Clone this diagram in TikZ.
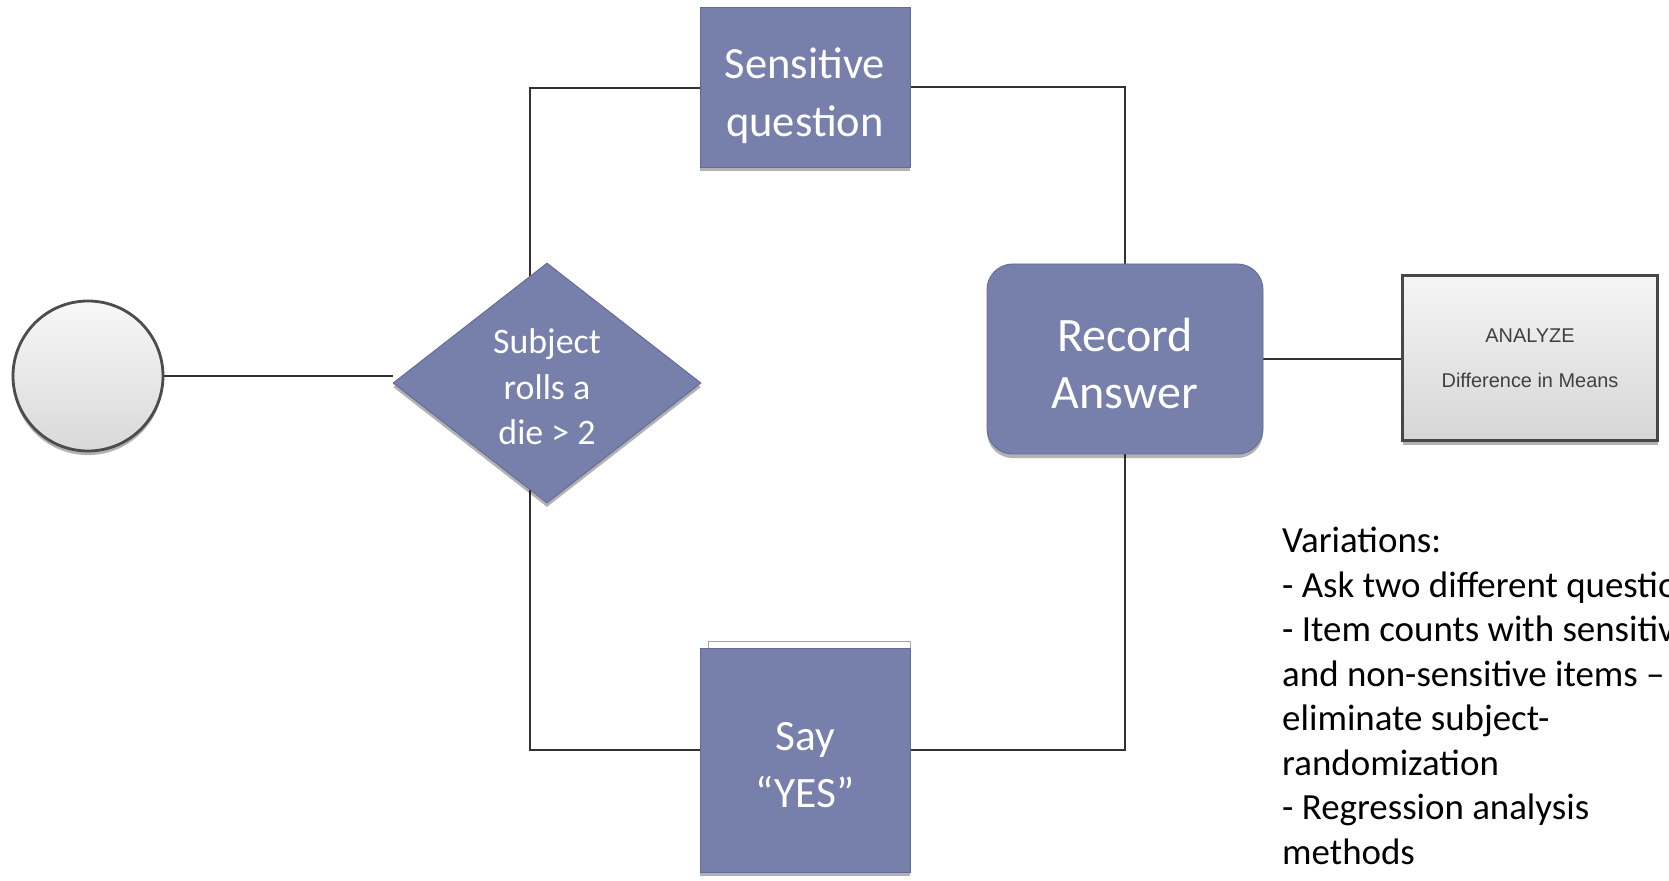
\documentclass[tikz,border=0pt]{standalone}
\usepackage{fontspec}
\setmainfont{Carlito}
\newfontfamily\labelfont{Liberation Sans}
\usetikzlibrary{shapes.geometric,shadows,calc}
\pgfdeclarelayer{background}
\pgfsetlayers{background,main}
\newdimen\pxu \pxu=0.03cm
\definecolor{boxblue}{RGB}{119,127,171}
\definecolor{boxedge}{RGB}{98,108,152}
\definecolor{linegray}{RGB}{50,50,50}

\begin{document}
\begin{tikzpicture}[x=0.03cm,y=-0.03cm,
  conn/.style={draw=linegray,line width=1.7pt},
  softshadow/.style={drop shadow={shadow xshift=0pt,shadow yshift=-3.5pt,opacity=0.3,fill=black}},
  stepbox/.style={rectangle,fill=boxblue,draw=boxedge,line width=0.8pt,text=white,
    align=center,inner sep=0pt,softshadow},
  recbox/.style={stepbox,rounded corners=22pt},
  decbox/.style={diamond,shape aspect=1.28,fill=boxblue,draw=boxedge,line width=0.8pt,
    text=white,align=center,inner sep=0pt,softshadow},
  startnode/.style={circle,draw=black!70,line width=2.4pt,top color=black!3,bottom color=black!15,
    inner sep=0pt,softshadow},
  anabox/.style={rectangle,draw=black!72,line width=2.4pt,top color=black!4,bottom color=black!16,
    text=black!75,align=center,inner sep=0pt,softshadow},
  notes/.style={align=left,inner sep=0pt,text=black}]

\useasboundingbox (0,0) rectangle (1669,881);
\clip (0,0) rectangle (1669,881);

% nodes
\node[startnode,minimum size=150*\pxu] (start) at (88,376) {};
\node[decbox,minimum width=308*\pxu,minimum height=240*\pxu,text height=105.4pt,text depth=0pt,
  font=\fontsize{30.6}{39}\selectfont] (dec) at (547,383) {Subject\\rolls a\\die > 2};
\node[stepbox,minimum width=210*\pxu,minimum height=160*\pxu,text height=84pt,text depth=0pt,
  font=\fontsize{38}{49}\selectfont] (sens) at (805,87) {Sensitive\\question};
\draw[draw=black!35,line width=0.6pt] (708,641) rectangle (910,870);
\node[stepbox,minimum width=210*\pxu,minimum height=224*\pxu,text height=81.5pt,text depth=0pt,
  font=\fontsize{37}{48.5}\selectfont] (say) at (805,760) {Say\\“YES”};
\node[recbox,minimum width=276*\pxu,minimum height=190*\pxu,text height=85pt,text depth=0pt,
  font=\fontsize{41}{49}\selectfont] (rec) at (1125,359) {Record\\Answer};
\node[anabox,minimum width=255*\pxu,minimum height=165*\pxu,
  font=\labelfont\fontsize{17}{38}\selectfont] (ana) at (1530,358) {ANALYZE\\Difference in Means};
\node[notes,anchor=north west,font=\fontsize{31.5}{38}\selectfont] (notes) at (1282,527)
  {Variations:\\
   - Ask two different questions\\
   - Item counts with sensitive\\
   and non-sensitive items --\\
   eliminate subject-\\
   randomization\\
   - Regression analysis\\
   methods};

\coordinate (tl) at (530,88);
\coordinate (bl) at (530,750);

% connectors, kept behind the boxes
\begin{pgfonlayer}{background}
  \fill[white] (0,0) rectangle (1669,881);
  \draw[conn] (start.east) -- (start.east -| dec.west);
  \draw[conn] (dec.center -| tl) -- (tl) -- (tl -| sens.west);
  \draw[conn] (dec.center -| bl) -- (bl) -- (bl -| say.west);
  \draw[conn] (sens.east) -| (rec.north);
  \draw[conn] (rec.south) -- (rec.south |- bl) -- (say.east |- bl);
  \draw[conn] (rec.east) -- (rec.east -| ana.west);
\end{pgfonlayer}
\end{tikzpicture}
\end{document}
